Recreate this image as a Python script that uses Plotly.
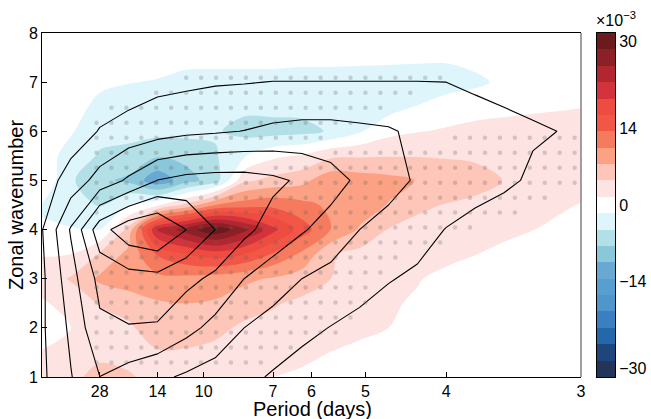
import numpy as np
import plotly.graph_objects as go

# ---------------- data ----------------
# frequency nodes (cycles per day), k/56
FREQ = [k / 56 for k in range(20)]
# wavenumber rows for the shaded field
WN_FILL = [1.0, 1.5, 2.0, 2.5, 3.0, 3.5, 4.0, 4.5, 5.0, 5.5, 6.0, 6.5, 7.0, 7.5, 8.0]
# shaded anomaly (x10^-3), rows follow WN_FILL
Z_FILL = [
    [2.7, 3.6, 5.7, 4.8, 3.6, 3.0, 2.9, 2.4, 1.5, 0.9, 0.3, 0, 0, 0, 0, 0, 0, 0, 0, 0],
    [1.65, 2.7, 3.6, 3.6, 4.2, 4.05, 3.6, 3.3, 3.0, 2.4, 1.45, 0.6, 0, 0, 0, 0, 0, 0, 0, 0],
    [0.3, 1.5, 3.0, 3.9, 6.6, 6.6, 5.4, 3.9, 3.6, 3.3, 3.0, 2.4, 1.5, 0.9, 0.3, 0, 0, 0, 0, 0],
    [1.2, 2.4, 4.8, 6.0, 7.2, 7.5, 7.2, 6.0, 4.8, 3.9, 3.3, 2.7, 1.8, 1.2, 0.45, 0, 0, 0, 0, 0],
    [2.7, 4.8, 8.1, 9.0, 9.6, 9.6, 9.0, 8.1, 7.2, 6.0, 4.5, 3.3, 2.4, 1.65, 0.9, 0.3, 0, 0, 0, 0],
    [1.35, 1.5, 4.8, 8.4, 13.8, 16.5, 18.0, 16.5, 13.2, 9.9, 4.8, 3.6, 3.0, 2.4, 2.1, 1.56, 0.9, 0.3, 0, 0],
    [-1.35, -1.35, -1.55, 5.4, 22.8, 27.0, 30.9, 26.4, 20.4, 15.0, 10.6, 7.2, 4.35, 3.6, 3.0, 2.4, 2.1, 1.55, 0.9, 0.6],
    [-1.65, -2.7, -4.8, -1.45, 0.9, 5.4, 10.6, 12.0, 12.6, 11.4, 9.9, 9.0, 7.35, 5.1, 4.35, 3.6, 3.3, 2.7, 1.8, 1.2],
    [0.9, -4.05, -6.9, -8.1, -12.6, -8.7, -6.0, 3.9, 5.4, 6.6, 9.6, 9.0, 8.4, 7.4, 6.6, 6.0, 4.4, 3.6, 3.0, 2.7],
    [0, -2.7, -4.8, -5.4, -7.2, -6.6, -4.8, -1.8, 0.9, 1.8, 3.9, 4.2, 4.35, 4.35, 4.2, 3.9, 3.6, 3.3, 3.0, 2.7],
    [0.6, -1.2, -3.6, -3.6, -3.6, -3.6, -4.2, -5.4, -5.7, -5.4, -4.2, -1.8, 0.6, 1.35, 1.8, 2.4, 2.7, 3.0, 3.0, 3.0],
    [0.9, 0.3, -2.7, -3.6, -3.9, -3.9, -3.9, -3.9, -3.6, -3.6, -3.6, -3.3, -2.7, -1.35, 0, 0.3, 0.6, 0.9, 1.2, 1.5],
    [0.6, 0.6, -0.6, -1.35, -1.8, -3.6, -3.9, -3.9, -3.9, -3.9, -3.9, -3.9, -3.6, -3.3, -3.0, -2.1, -0.9, 0, 0, 0],
    [0, 0, 0.3, 0.3, 0.3, 0.6, 0.6, 0.6, 0.6, 0, 0, -0.3, -0.6, -0.9, -1.05, -0.6, 0, 0, 0, 0],
    [0] * 20,
]
# wavenumber rows for the black-contour field
WN_LINE = [1, 2, 3, 4, 5, 6, 7, 8]
Z_LINE = [
    [0.8, 1.95, 2.99, 2.6, 2.2, 1.85, 1.55, 1.25, 0.9, 0.6, 0.4, 0.25, 0.15, 0.1, 0.05, 0, 0, 0, 0, 0],
    [0.85, 2.2, 3.8, 3.95, 3.9, 3.3, 2.7, 2.0, 1.6, 1.25, 0.97, 0.75, 0.55, 0.4, 0.3, 0.2, 0.1, 0.05, 0, 0],
    [0.8, 2.6, 4.3, 4.6, 4.7, 4.25, 3.8, 3.0, 2.5, 2.0, 1.7, 1.35, 1.05, 0.85, 0.65, 0.45, 0.3, 0.2, 0.1, 0.05],
    [0.95, 3.1, 5.6, 6.65, 7.0, 6.0, 5.0, 4.25, 3.6, 3.1, 2.6, 2.0, 1.7, 1.35, 0.97, 0.65, 0.4, 0.25, 0.15, 0.1],
    [0.5, 1.4, 2.37, 3.16, 4.02, 4.3, 4.4, 4.4, 4.2, 3.85, 3.4, 2.8, 2.3, 1.9, 1.65, 1.45, 1.2, 0.85, 0.5, 0.2],
    [0.1, 0.5, 1.05, 1.4, 1.6, 1.8, 1.9, 2.02, 2.2, 2.3, 2.3, 2.2, 2.1, 1.8, 1.6, 1.4, 1.25, 1.1, 0.98, 0.8],
    [0.0, 0.1, 0.42, 0.47, 0.74, 0.82, 0.92, 0.96, 1.02, 1.02, 1.02, 1.02, 1.02, 1.02, 1.0, 0.86, 0.74, 0.65, 0.5, 0.4],
    [0] * 20,
]
LINE_LEVELS = dict(start=1, end=6, size=1)

# period tick labels (days)
PERIOD_TICKS = [28, 14, 10, 7, 6, 5, 4, 3]
# colour bar
CB_TICKS = [-30, -14, 0, 14, 30]
CB_TEXT = ["\u221230", "\u221214", "0", "14", "30"]
BAND = 3.0            # width of each shaded band (x10^-3)
COLORS = [
    "#22345a", "#1f467c", "#2468a9", "#3a80c0", "#4f97ca", "#579fcf", "#68a8d3",
    "#8ac7da", "#b3e0e7", "#def5fc", "#ffffff",
    "#fee3e3", "#fdc6b8", "#fca183", "#f67b5e", "#f25646", "#ee4c41", "#d3333b",
    "#b2262f", "#8b2127", "#6b1a1e",
]
# stippling: significance threshold on |anomaly| and lowest significant frequency
SIG_THRESHOLD = 2.5
SIG_MIN_FREQ = 0.032
STIP_F0, STIP_DF = 0.0337, 0.00924
STIP_K0, STIP_DK = 7.09, 0.305

# ---------------- derived ----------------
n = len(COLORS)
cscale = []
for i, c in enumerate(COLORS):
    cscale.append([i / n, c])
    cscale.append([(i + 1) / n, c])
half = BAND * (n // 2)
cb_levels = [BAND * (i - n // 2) for i in range(n)]


def bilinear(xs, ys, Z, xq, yq):
    xs = np.asarray(xs, float); ys = np.asarray(ys, float); Z = np.asarray(Z, float)
    ix = np.clip(np.searchsorted(xs, xq) - 1, 0, len(xs) - 2)
    iy = np.clip(np.searchsorted(ys, yq) - 1, 0, len(ys) - 2)
    tx = (xq - xs[ix]) / (xs[ix + 1] - xs[ix])
    ty = (yq - ys[iy]) / (ys[iy + 1] - ys[iy])
    return (Z[iy, ix] * (1 - tx) * (1 - ty) + Z[iy, ix + 1] * tx * (1 - ty)
            + Z[iy + 1, ix] * (1 - tx) * ty + Z[iy + 1, ix + 1] * tx * ty)


sf = np.arange(STIP_F0, 1 / 3 + 1e-9, STIP_DF)
sk = np.arange(STIP_K0, 1.0, -STIP_DK)
SF, SK = np.meshgrid(sf, sk)
SF = SF.ravel(); SK = SK.ravel()
vals = bilinear(FREQ, WN_FILL, Z_FILL, SF, SK)
mask = (np.abs(vals) >= SIG_THRESHOLD) & (SF >= SIG_MIN_FREQ)

# ---------------- figure ----------------
W, H = 651, 419
ML, MR, MT, MB = 42, 6, 33, 42
PW = W - ML - MR
PH = H - MT - MB
main_right = (581 - ML) / PW
cb_x0 = (597 - ML) / PW
cb_x1 = (615 - ML) / PW
FONT = "Liberation Sans, Arial, sans-serif"


def py(px):  # pixel row -> paper y
    return (H - MB - px) / PH


fig = go.Figure()
fig.add_trace(go.Contour(
    x=FREQ, y=WN_FILL, z=Z_FILL,
    contours=dict(start=-half + BAND / 2, end=half - BAND / 2, size=BAND, coloring="fill"),
    colorscale=cscale, showscale=False, line=dict(width=0), hoverinfo="skip",
))
fig.add_trace(go.Scatter(
    x=SF[mask], y=SK[mask], mode="markers",
    marker=dict(size=4.5, color="rgba(95,95,95,0.26)", line=dict(width=0)),
    hoverinfo="skip",
))
fig.add_trace(go.Contour(
    x=FREQ, y=WN_LINE, z=Z_LINE,
    contours=dict(coloring="none", **LINE_LEVELS),
    line=dict(color="black", width=1.1, smoothing=0), showscale=False, hoverinfo="skip",
))
# colour bar as a heatmap strip
fig.add_trace(go.Heatmap(
    x=[0], y=cb_levels, z=[[v] for v in cb_levels],
    colorscale=cscale, zmin=-half - BAND / 2, zmax=half + BAND / 2,
    showscale=False, xaxis="x2", yaxis="y2", hoverinfo="skip",
))

tickfont = dict(family=FONT, size=16, color="black")
fig.update_layout(
    width=W, height=H, margin=dict(l=ML, r=MR, t=MT, b=MB, autoexpand=False),
    paper_bgcolor="white", plot_bgcolor="white", showlegend=False,
    font=dict(family=FONT, color="black"),
    xaxis=dict(domain=[0, main_right], range=[0, 1 / 3],
               tickvals=[1 / p for p in PERIOD_TICKS], ticktext=[str(p) for p in PERIOD_TICKS],
               ticks="inside", ticklen=5, tickcolor="black", showline=True, linecolor="black",
               linewidth=1, mirror=True, showgrid=False, zeroline=False, tickfont=tickfont),
    yaxis=dict(domain=[0, 1], range=[1, 8], dtick=1, ticks="inside", ticklen=5,
               tickcolor="black", showline=True, linecolor="black", linewidth=1,
               showgrid=False, zeroline=False, tickfont=tickfont),
    xaxis2=dict(domain=[cb_x0, cb_x1], range=[-0.5, 0.5], anchor="y2", showticklabels=False,
                ticks="", showline=True, linecolor="black", linewidth=1, mirror=True,
                showgrid=False, zeroline=False),
    yaxis2=dict(domain=[0, 1], range=[-half - BAND / 2, half + BAND / 2], anchor="x2",
                side="right", tickvals=CB_TICKS, ticktext=CB_TEXT, ticks="",
                showline=True, linecolor="black", linewidth=1, mirror=True,
                showgrid=False, zeroline=False, tickfont=tickfont),
    shapes=[dict(type="line", xref="paper", yref="paper", x0=main_right, x1=main_right,
                 y0=0, y1=1, line=dict(color="#808080", width=1.5))],
    annotations=[
        dict(text="Period (days)", xref="paper", yref="paper", x=(312 - ML) / PW,
             y=py(409), xanchor="center", yanchor="middle", showarrow=False,
             font=dict(family=FONT, size=20, color="black")),
        dict(text="Zonal wavenumber", xref="paper", yref="paper", x=(16 - ML) / PW,
             y=py(205), xanchor="center", yanchor="middle", showarrow=False, textangle=-90,
             font=dict(family=FONT, size=20, color="black")),
        dict(text="\u00d710<sup>\u22123</sup>", xref="paper", yref="paper", x=(594 - ML) / PW,
             y=py(19), xanchor="left", yanchor="middle", showarrow=False,
             font=dict(family=FONT, size=16, color="black")),
    ],
)

fig.write_html("out.html", config={"displayModeBar": False},
               post_script="document.body.style.margin='0';")
